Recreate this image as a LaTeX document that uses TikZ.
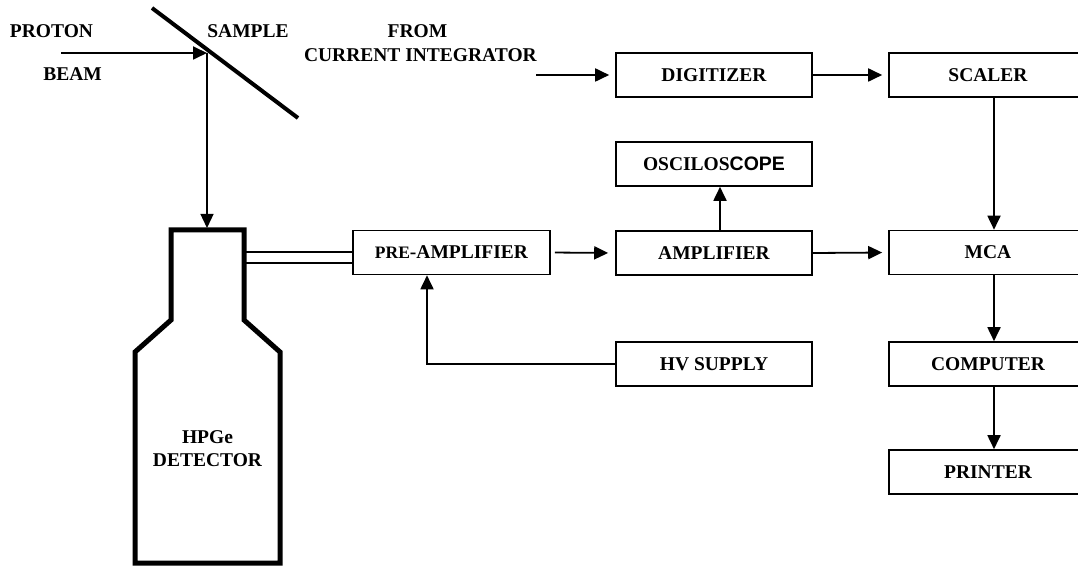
\documentclass[tikz,border=0pt]{standalone}
\usepackage{fontspec}
\setmainfont{Liberation Serif}
\setsansfont{Liberation Sans}
\usepackage{tikz}
\usetikzlibrary{arrows.meta,calc}

\begin{document}
\begin{tikzpicture}[x=1pt, y=-1pt,
    every node/.style={font=\fontsize{19.5}{23.5}\selectfont\bfseries},
    unit/.style={draw, line width=1.6pt, minimum width=196pt, minimum height=44pt, inner sep=0pt},
    lbl/.style={inner sep=0pt, anchor=base},
    arr/.style={line width=1.8pt, -{Triangle[length=14pt, width=13pt]}},
    cable/.style={line width=1.3pt}]
    % Page frame
    \useasboundingbox (0,0) rectangle (1078,569);
    \clip (0,0) rectangle (1078,569);

    % Beam and sample
    \node[lbl] (proton) at (51.5,38) {PROTON};
    \node[lbl] (beam) at (72.5,81) {BEAM};
    \node[lbl] (sample) at (248,38) {SAMPLE};
    \coordinate (beamin) at (61,53);
    \coordinate (hit) at (207,53);
    \coordinate (dettop) at (207,228);
    \draw[line width=4pt] (152,8) -- (298,118);
    \draw[arr] (beamin) -- (hit);
    \draw[arr, line width=1.3pt] (hit) -- (dettop);

    % HPGe detector outline
    \draw[line width=5pt, line join=miter]
        (171,230) -- (244,230) -- (244,320) -- (280,352) -- (280,563)
        -- (135,563) -- (135,352) -- (171,320) -- cycle;
    \node[align=center, inner sep=0pt] (hpge) at (207.5,448.5) {HPGe\\DETECTOR};
    \coordinate (cab1) at (246,252);
    \coordinate (cab2) at (246,263);

    % Electronics chain
    \node[unit, minimum width=197pt] (preamp) at (451.5,252.5) {{\fontsize{17.5}{18}\selectfont PRE}-AMPLIFIER};
    \node[unit] (digitizer) at (714,75) {DIGITIZER};
    \node[unit] (osc) at (714,164) {OSCILOS{\sffamily COPE}};
    \node[unit] (amp) at (714,253) {AMPLIFIER};
    \node[unit] (hv) at (714,364) {HV SUPPLY};
    \node[unit, minimum width=198pt] (scaler) at (988,75) {SCALER};
    \node[unit, minimum width=198pt] (mca) at (988,252.5) {MCA};
    \node[unit, minimum width=198pt] (computer) at (988,364) {COMPUTER};
    \node[unit, minimum width=198pt] (printer) at (988,472) {PRINTER};

    % Current integrator input
    \node[lbl] (from) at (417.5,38) {FROM};
    \node[lbl, anchor=base east] (integ) at (537,62) {CURRENT INTEGRATOR};
    \coordinate (cin) at (536,75);

    % Connections
    \draw[cable] (cab1) -- (cab1 -| preamp.west);
    \draw[cable] (cab2) -- (cab2 -| preamp.west);
    \draw[arr, shorten >=6pt] (cin) -- (digitizer.west);
    \draw[arr, shorten >=6pt] (digitizer.east) -- (scaler.west);
    \draw[arr, shorten <=4pt, shorten >=7pt] (preamp.east) -- (amp.west);
    \draw[arr] ([xshift=6pt]amp.north) -- ([xshift=6pt]osc.south);
    \draw[arr, shorten >=6pt] (amp.east) -- (mca.west);
    \draw[arr] (hv.west) -| ([xshift=-24.5pt]preamp.south);
    \draw[arr] ([xshift=6pt]scaler.south) -- ([xshift=6pt]mca.north);
    \draw[arr] ([xshift=6pt]mca.south) -- ([xshift=6pt]computer.north);
    \draw[arr] ([xshift=6pt]computer.south) -- ([xshift=6pt]printer.north);
\end{tikzpicture}
\end{document}
